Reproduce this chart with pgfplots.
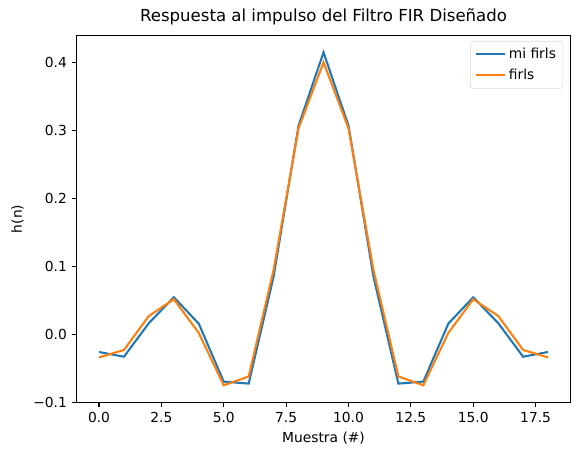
\documentclass[border=0pt]{standalone}
\usepackage{fontspec}
\setmainfont{DejaVu Sans}
\usepackage{pgfplots}
\pgfplotsset{compat=1.18}
\definecolor{tabblue}{HTML}{1F77B4}
\definecolor{taborange}{HTML}{FF7F0E}
\begin{document}
\begin{tikzpicture}
\begin{axis}[
  scale only axis,
  width=357.8pt, height=265.7pt,
  xmin=-0.9, xmax=18.9, ymin=-0.1, ymax=0.4395,
  xtick={0,2.5,5,7.5,10,12.5,15,17.5},
  xticklabels={0.0,2.5,5.0,7.5,10.0,12.5,15.0,17.5},
  ytick={-0.1,0,0.1,0.2,0.3,0.4},
  yticklabels={−0.1,0.0,0.1,0.2,0.3,0.4},
  tick align=outside, xtick pos=bottom, ytick pos=left,
  major tick length=3.5pt,
  tick style={black, line width=0.8pt},
  axis line style={line width=0.8pt},
  ticklabel style={font=\fontsize{10}{12}\selectfont},
  title={Respuesta al impulso del Filtro FIR Diseñado},
  title style={font=\fontsize{12}{14}\selectfont, yshift=-2pt},
  xlabel={Muestra (\#)}, ylabel={h(n)},
  label style={font=\fontsize{10}{12}\selectfont},
  legend style={at={(0.985,0.985)}, anchor=north east, draw=black!15, rounded corners=2pt, font=\fontsize{10}{12}\selectfont, row sep=2pt, inner sep=3pt},
  legend cell align=left,
  legend image code/.code={\draw[#1, line width=1.5pt] (0cm,0cm) -- (0.75cm,0cm);},
]
\addplot[tabblue, line width=1.5pt] coordinates {
(0,-0.026) (1,-0.033) (2,0.0165) (3,0.0545) (4,0.0156) (5,-0.0696) (6,-0.0725) (7,0.085) (8,0.307) (9,0.4146)
(10,0.307) (11,0.085) (12,-0.0725) (13,-0.0696) (14,0.0156) (15,0.0545) (16,0.0165) (17,-0.033) (18,-0.026)};
\addlegendentry{mi firls}
\addplot[taborange, line width=1.5pt] coordinates {
(0,-0.034) (1,-0.023) (2,0.027) (3,0.0516) (4,0.002) (5,-0.075) (6,-0.062) (7,0.095) (8,0.303) (9,0.400)
(10,0.303) (11,0.095) (12,-0.062) (13,-0.075) (14,0.002) (15,0.0516) (16,0.027) (17,-0.023) (18,-0.034)};
\addlegendentry{firls}
\end{axis}
\path (current bounding box.south west) ++(-5pt,-6pt) (current bounding box.north east) ++(5pt,3pt);
\end{tikzpicture}
\end{document}
